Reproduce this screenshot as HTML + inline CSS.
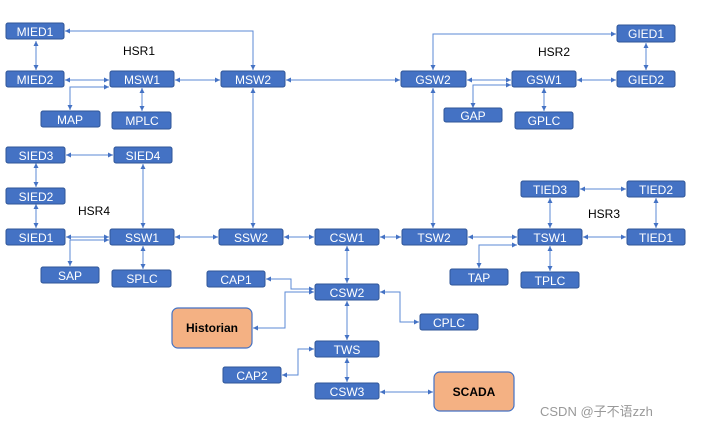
<!DOCTYPE html>
<html><head><meta charset="utf-8"><style>
html,body{margin:0;padding:0;background:#fff;}
svg{display:block;}
.b{fill:#4472c4;stroke:#2f5597;stroke-width:1;}
.o{fill:#f4b183;stroke:#4472c4;stroke-width:1.2;}
.t{fill:#fff;font-family:"Liberation Sans",sans-serif;font-size:12px;text-anchor:middle;}
.k{fill:#000;font-family:"Liberation Sans",sans-serif;font-size:12px;font-weight:bold;text-anchor:middle;}
.l{fill:#000;font-family:"Liberation Sans",sans-serif;font-size:12px;}
.c{stroke:#5b8ad6;stroke-width:1;fill:none;marker-start:url(#a);marker-end:url(#a);}
</style></head><body>
<svg width="701" height="429" viewBox="0 0 701 429">
<defs><marker id="a" markerWidth="6" markerHeight="6" refX="5" refY="3" orient="auto-start-reverse" markerUnits="userSpaceOnUse"><path d="M0,0.5 L5,3 L0,5.5z" fill="#4472c4"/></marker></defs>
<!-- connectors -->
<path class="c" d="M36,41 V70"/>
<path class="c" d="M65,80 H109"/>
<path class="c" d="M175,80 H220"/>
<path class="c" d="M286,80 H400"/>
<path class="c" d="M65,31 H253 V70"/>
<path class="c" d="M70,110 V87 H109"/>
<path class="c" d="M142,88 V111"/>
<path class="c" d="M253,88 V228"/>
<path class="c" d="M467,80 H511"/>
<path class="c" d="M577,80 H616"/>
<path class="c" d="M646,43 V70"/>
<path class="c" d="M616,34 H433 V70"/>
<path class="c" d="M473,108 V85 H511"/>
<path class="c" d="M544,88 V111"/>
<path class="c" d="M433,88 V228"/>
<path class="c" d="M36,163 V187"/>
<path class="c" d="M36,204 V228"/>
<path class="c" d="M66,155 H113"/>
<path class="c" d="M143,164 V228"/>
<path class="c" d="M66,237 H109"/>
<path class="c" d="M175,237 H218"/>
<path class="c" d="M284,237 H314"/>
<path class="c" d="M380,237 H401"/>
<path class="c" d="M468,237 H517"/>
<path class="c" d="M583,237 H626"/>
<path class="c" d="M70,266 V240 H109"/>
<path class="c" d="M143,246 V269"/>
<path class="c" d="M550,198 V228"/>
<path class="c" d="M580,189 H626"/>
<path class="c" d="M656,198 V228"/>
<path class="c" d="M479,268 V245 H517"/>
<path class="c" d="M550,246 V271"/>
<path class="c" d="M347,246 V283"/>
<path class="c" d="M266,279 H291 V289 H314"/>
<path class="c" d="M253,328 H285 V292 H314"/>
<path class="c" d="M380,292 H400 V322 H419"/>
<path class="c" d="M347,301 V340"/>
<path class="c" d="M282,375 H298 V349 H314"/>
<path class="c" d="M347,358 V382"/>
<path class="c" d="M380,392 H433"/>
<!-- boxes -->
<g>
<rect class="b" x="6" y="23" width="58" height="16" rx="2"/><text class="t" x="35" y="36">MIED1</text>
<rect class="b" x="6" y="71" width="58" height="16" rx="2"/><text class="t" x="35" y="84">MIED2</text>
<rect class="b" x="110" y="71" width="64" height="16" rx="2"/><text class="t" x="142" y="84">MSW1</text>
<rect class="b" x="221" y="71" width="64" height="16" rx="2"/><text class="t" x="253" y="84">MSW2</text>
<rect class="b" x="41" y="111" width="59" height="16" rx="2"/><text class="t" x="70" y="124">MAP</text>
<rect class="b" x="112" y="112" width="59" height="17" rx="2"/><text class="t" x="142" y="125">MPLC</text>
<rect class="b" x="6" y="147" width="59" height="16" rx="2"/><text class="t" x="36" y="160">SIED3</text>
<rect class="b" x="114" y="147" width="58" height="16" rx="2"/><text class="t" x="143" y="160">SIED4</text>
<rect class="b" x="6" y="188" width="59" height="16" rx="2"/><text class="t" x="36" y="201">SIED2</text>
<rect class="b" x="6" y="229" width="59" height="16" rx="2"/><text class="t" x="36" y="242">SIED1</text>
<rect class="b" x="110" y="229" width="64" height="16" rx="2"/><text class="t" x="142" y="242">SSW1</text>
<rect class="b" x="219" y="229" width="64" height="16" rx="2"/><text class="t" x="251" y="242">SSW2</text>
<rect class="b" x="315" y="229" width="64" height="16" rx="2"/><text class="t" x="347" y="242">CSW1</text>
<rect class="b" x="402" y="229" width="65" height="16" rx="2"/><text class="t" x="434" y="242">TSW2</text>
<rect class="b" x="518" y="229" width="64" height="16" rx="2"/><text class="t" x="550" y="242">TSW1</text>
<rect class="b" x="627" y="229" width="58" height="16" rx="2"/><text class="t" x="656" y="242">TIED1</text>
<rect class="b" x="521" y="181" width="58" height="16" rx="2"/><text class="t" x="550" y="194">TIED3</text>
<rect class="b" x="627" y="181" width="58" height="16" rx="2"/><text class="t" x="656" y="194">TIED2</text>
<rect class="b" x="41" y="267" width="58" height="16" rx="2"/><text class="t" x="70" y="280">SAP</text>
<rect class="b" x="112" y="270" width="59" height="17" rx="2"/><text class="t" x="142" y="283">SPLC</text>
<rect class="b" x="450" y="269" width="58" height="16" rx="2"/><text class="t" x="479" y="282">TAP</text>
<rect class="b" x="521" y="272" width="58" height="16" rx="2"/><text class="t" x="550" y="285">TPLC</text>
<rect class="b" x="207" y="271" width="58" height="16" rx="2"/><text class="t" x="236" y="284">CAP1</text>
<rect class="b" x="315" y="284" width="64" height="16" rx="2"/><text class="t" x="347" y="297">CSW2</text>
<rect class="b" x="420" y="314" width="58" height="16" rx="2"/><text class="t" x="449" y="327">CPLC</text>
<rect class="b" x="315" y="341" width="64" height="16" rx="2"/><text class="t" x="347" y="354">TWS</text>
<rect class="b" x="223" y="367" width="58" height="16" rx="2"/><text class="t" x="252" y="380">CAP2</text>
<rect class="b" x="315" y="383" width="64" height="16" rx="2"/><text class="t" x="347" y="396">CSW3</text>
<rect class="b" x="401" y="71" width="65" height="16" rx="2"/><text class="t" x="433" y="84">GSW2</text>
<rect class="b" x="512" y="71" width="64" height="16" rx="2"/><text class="t" x="544" y="84">GSW1</text>
<rect class="b" x="617" y="71" width="58" height="16" rx="2"/><text class="t" x="646" y="84">GIED2</text>
<rect class="b" x="617" y="25" width="58" height="17" rx="2"/><text class="t" x="646" y="38">GIED1</text>
<rect class="b" x="444" y="108" width="58" height="14" rx="2"/><text class="t" x="473" y="120">GAP</text>
<rect class="b" x="515" y="112" width="58" height="17" rx="2"/><text class="t" x="544" y="125">GPLC</text>
<rect class="o" x="172" y="308" width="80" height="40" rx="6"/><text class="k" x="212" y="332">Historian</text>
<rect class="o" x="434" y="372" width="80" height="39" rx="6"/><text class="k" x="474" y="396">SCADA</text>
</g>
<text class="l" x="123" y="55">HSR1</text>
<text class="l" x="538" y="56">HSR2</text>
<text class="l" x="78" y="215">HSR4</text>
<text class="l" x="588" y="218">HSR3</text>
<text x="540" y="416" style="fill:#999;font-family:'Liberation Sans','Noto Sans CJK SC',sans-serif;font-size:13px;">CSDN @子不语zzh</text>
</svg>
</body></html>
